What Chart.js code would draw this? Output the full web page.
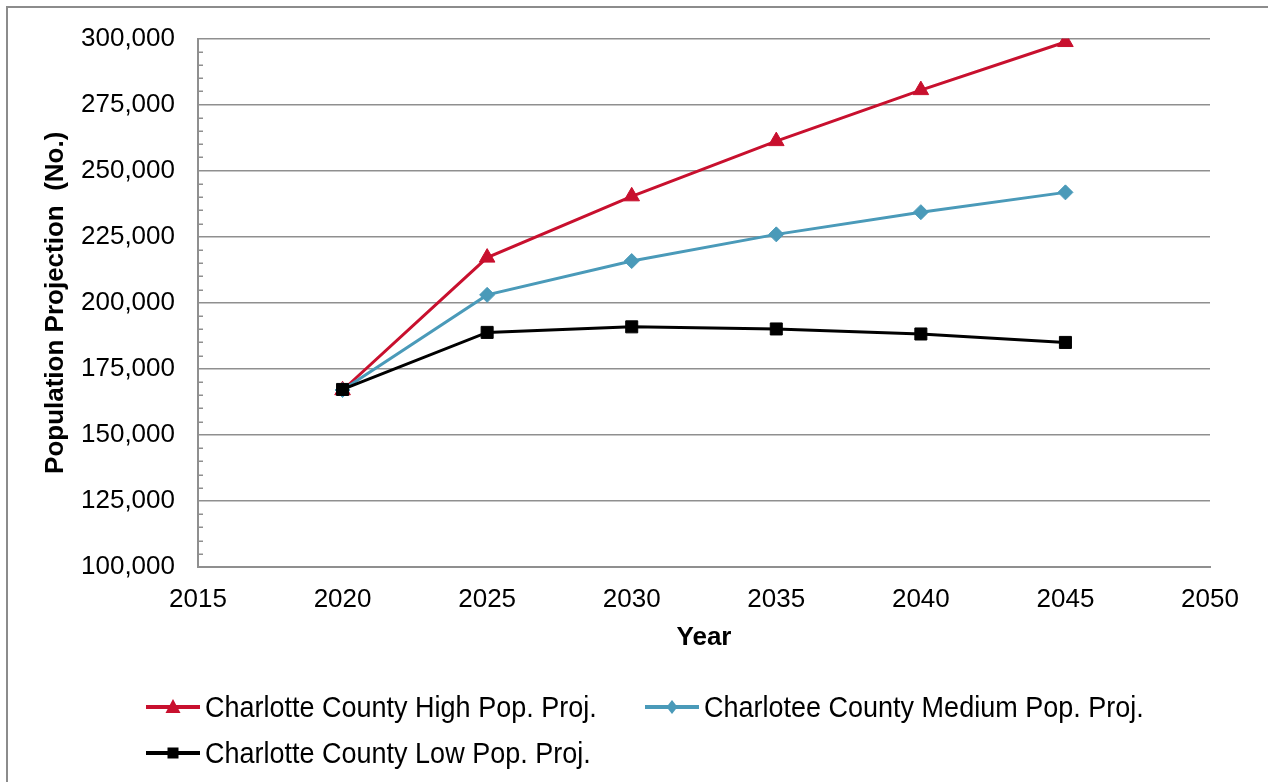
<!DOCTYPE html>
<html>
<head>
<meta charset="utf-8">
<title>Charlotte County Population Projections</title>
<script src="https://cdn.jsdelivr.net/npm/chart.js@4.4.1/dist/chart.umd.min.js"></script>
<style>
  html, body { margin: 0; padding: 0; background: #fff; overflow: hidden; width: 1268px; height: 782px; }
  #frame { position: absolute; left: 6px; top: 6px; width: 1400px; height: 900px;
           border-left: 2px solid #8c8c8c; border-top: 2px solid #8c8c8c; }
  #wrap { position: absolute; left: 0; top: 0; width: 1268px; height: 782px; }
  #legend { position: absolute; left: 0; top: 0; width: 1268px; height: 782px; pointer-events: none;
            font-family: 'Liberation Sans', Arial, sans-serif; font-size: 27px; color: #000; }
  .item { position: absolute; height: 44px; display: flex; align-items: center; white-space: nowrap; }
  .item canvas { margin-right: 5px; }
  .item span { display: inline-block; transform: scaleY(1.08); }
</style>
</head>
<body>
<div id="frame"></div>
<div id="wrap"><canvas id="chart" width="1268" height="782"></canvas></div>
<div id="legend"></div>
<script>
// Projection years and population values
const years = [2020, 2025, 2030, 2035, 2040, 2045];
const highProj   = [166900, 217100, 240300, 261200, 280500, 298700];
const mediumProj = [167000, 203000, 215800, 225900, 234300, 241800];
const lowProj    = [167200, 188800, 190900, 190100, 188200, 185000];

const seriesNames = [
  'Charlotte County High Pop. Proj.',
  'Charlotee County Medium Pop. Proj.',
  'Charlotte County Low Pop. Proj.'
];

// Axis tick values
const yearTicks = [2015, 2020, 2025, 2030, 2035, 2040, 2045, 2050];
const popTicks = [100000, 125000, 150000, 175000, 200000, 225000, 250000, 275000, 300000];
const minorStep = 5000;

const RED = '#C8102E';
const BLUE = '#4A9AB9';
const BLACK = '#000000';
const GRID = '#8f8f8f';
const FONT = "'Liberation Sans', Arial, sans-serif";

Chart.defaults.font.family = FONT;
Chart.defaults.color = '#000';

const toPoints = vals => years.map((x, i) => ({ x: x, y: vals[i] }));

// Small inward tick marks on the value axis between the gridlines
const minorTicks = {
  id: 'minorTicks',
  beforeDatasetsDraw(chart) {
    const y = chart.scales.y;
    const left = chart.chartArea.left;
    const ctx = chart.ctx;
    ctx.save();
    ctx.strokeStyle = GRID;
    ctx.lineWidth = 1.5;
    for (let v = y.min; v <= y.max; v += minorStep) {
      if (popTicks.includes(v)) continue;
      const py = Math.round(y.getPixelForValue(v)) + 0.25;
      ctx.beginPath();
      ctx.moveTo(left, py);
      ctx.lineTo(left + 5, py);
      ctx.stroke();
    }
    ctx.restore();
  }
};

const chart = new Chart(document.getElementById('chart'), {
  type: 'line',
  data: {
    datasets: [
      { label: seriesNames[0], data: toPoints(highProj), borderColor: RED, backgroundColor: RED,
        borderWidth: 3, pointStyle: 'triangle', pointRadius: 9, pointBorderWidth: 1, order: 3 },
      { label: seriesNames[1], data: toPoints(mediumProj), borderColor: BLUE, backgroundColor: BLUE,
        borderWidth: 3, pointStyle: 'rectRot', pointRadius: 7.5, pointBorderWidth: 1, order: 2 },
      { label: seriesNames[2], data: toPoints(lowProj), borderColor: BLACK, backgroundColor: BLACK,
        borderWidth: 3, pointStyle: 'rect', pointRadius: 8.5, pointBorderWidth: 1, order: 1 }
    ]
  },
  options: {
    responsive: false,
    animation: false,
    layout: { padding: { left: 30, right: 58, top: 37, bottom: 115 } },
    plugins: { legend: { display: false }, tooltip: { enabled: false } },
    elements: { line: { tension: 0 } },
    scales: {
      x: {
        type: 'linear',
        min: yearTicks[0],
        max: yearTicks[yearTicks.length - 1],
        afterBuildTicks: s => { s.ticks = yearTicks.map(v => ({ value: v })); },
        afterFit: s => { s.height = 100; },
        grid: { display: false, drawTicks: false },
        border: { display: true, color: GRID, width: 2 },
        ticks: { padding: 17, font: { size: 26 }, maxRotation: 0, autoSkip: false,
                 callback: v => String(v) },
        title: { display: true, text: 'Year', font: { size: 26, weight: 'bold' },
                 padding: { top: 0, bottom: 14 } }
      },
      y: {
        type: 'linear',
        min: popTicks[0],
        max: popTicks[popTicks.length - 1],
        afterBuildTicks: s => { s.ticks = popTicks.map(v => ({ value: v })); },
        afterFit: s => { s.width = 168; },
        grid: { color: GRID, lineWidth: 1.5, drawTicks: false },
        border: { display: true, color: GRID, width: 2 },
        ticks: { padding: 23, font: { size: 26 }, autoSkip: false,
                 callback: v => Number(v).toLocaleString('en-US') },
        title: { display: true, text: 'Population Projection  (No.)',
                 font: { size: 26, weight: 'bold' }, padding: { top: 10, bottom: 0 } }
      }
    }
  },
  plugins: [minorTicks]
});

// Legend: line sample with marker, followed by the series name
function drawSample(cv, color, style) {
  const c = cv.getContext('2d');
  const w = cv.width, h = cv.height, cx = w / 2, cy = h / 2;
  c.strokeStyle = color;
  c.fillStyle = color;
  c.lineWidth = 4;
  c.beginPath();
  c.moveTo(0, cy);
  c.lineTo(w, cy);
  c.stroke();
  c.beginPath();
  if (style === 'triangle') {
    c.moveTo(cx, cy - 8);
    c.lineTo(cx + 7.5, cy + 6);
    c.lineTo(cx - 7.5, cy + 6);
  } else if (style === 'rectRot') {
    c.moveTo(cx, cy - 7);
    c.lineTo(cx + 5.5, cy);
    c.lineTo(cx, cy + 7);
    c.lineTo(cx - 5.5, cy);
  } else {
    c.rect(cx - 5.5, cy - 5.5, 11, 11);
  }
  c.closePath();
  c.fill();
}

const legendSlots = [
  { left: 146, center: 707 },
  { left: 645, center: 707 },
  { left: 146, center: 753 }
];
const legendEl = document.getElementById('legend');
chart.data.datasets.forEach((ds, i) => {
  const slot = legendSlots[i];
  const item = document.createElement('div');
  item.className = 'item';
  item.style.left = slot.left + 'px';
  item.style.top = (slot.center - 22) + 'px';
  const cv = document.createElement('canvas');
  cv.width = 54; cv.height = 24;
  drawSample(cv, ds.borderColor, ds.pointStyle);
  const span = document.createElement('span');
  span.textContent = ds.label;
  item.appendChild(cv);
  item.appendChild(span);
  legendEl.appendChild(item);
});
</script>
</body>
</html>
